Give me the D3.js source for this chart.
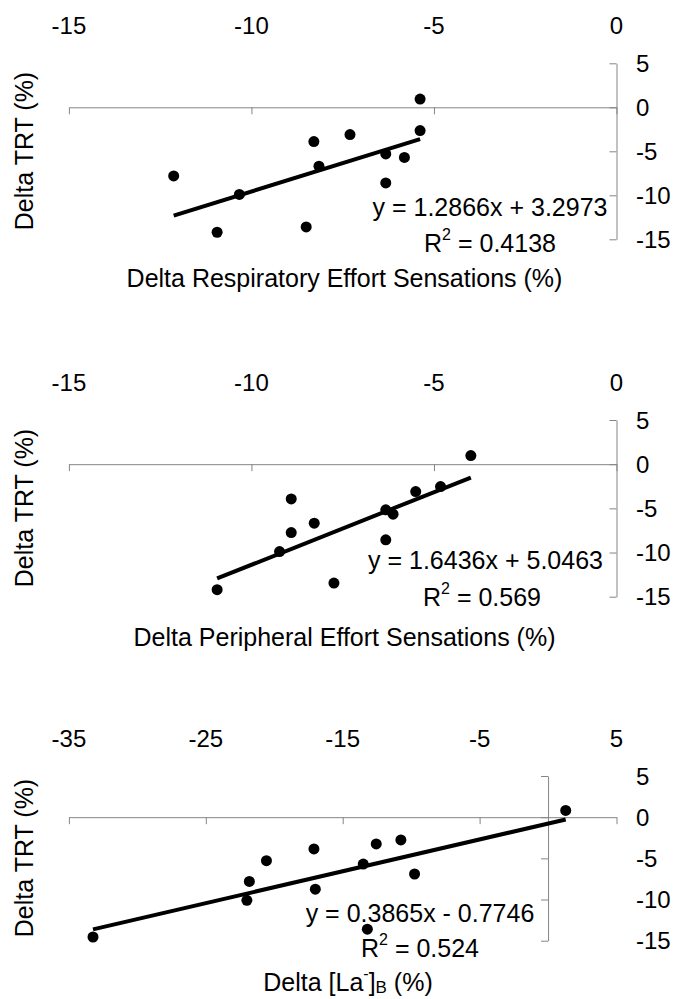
<!DOCTYPE html>
<html lang="en">
<head>
    <meta charset="utf-8">
    <title>Delta TRT vs effort sensations and lactate</title>
    <script src="https://d3js.org/d3.v7.min.js"></script>
    <style>
        body { margin: 0; background: #fff; }
        svg text { font-family: "Liberation Sans", Arial, sans-serif; fill: #000; }
    </style>
</head>
<body>
<div id="chart"></div>
<script>
    // --- data ---
    const yTicks = [5, 0, -5, -10, -15];

    const respTicks = [-15, -10, -5, 0];
    const respX = [-5.38, -5.38, -7.30, -8.29, -8.15, -6.32, -5.81, -6.32, -12.13, -10.33, -10.94, -8.50];
    const respY = [0.93, -2.65, -3.1, -3.9, -6.7, -5.3, -5.7, -8.6, -7.8, -9.9, -14.2, -13.6];

    const periphTicks = [-15, -10, -5, 0];
    const periphX = [-3.99, -4.82, -5.50, -6.32, -6.12, -6.32, -8.91, -8.91, -8.28, -9.23, -10.94, -7.74];
    const periphY = [0.97, -2.53, -3.1, -5.17, -5.66, -8.56, -3.93, -7.74, -6.68, -9.89, -14.2, -13.46];

    const lacTicks = [-35, -25, -15, -5, 5];
    const lacX = [1.29, -10.75, -12.55, -17.1, -20.57, -13.5, -9.75, -21.82, -17.0, -22.0, -13.2, -33.24];
    const lacY = [0.82, -2.76, -3.25, -3.86, -5.28, -5.69, -6.9, -7.8, -8.74, -10.1, -13.6, -14.55];

    const slopes = [1.2866, 1.6436, 0.3865];
    const intercepts = [3.2973, 5.0463, -0.7746];
    const equations = ["y = 1.2866x + 3.2973", "y = 1.6436x + 5.0463", "y = 0.3865x - 0.7746"];
    const r2Values = ["0.4138", "0.569", "0.524"];

    const width = 674, height = 999;
    const svg = d3.select("#chart").append("svg")
        .attr("width", width).attr("height", height);

    const panels = [
        {xs: respX, ys: respY, ticks: respTicks, top: 63.3, bottom: 239.3, eq: [490, 206.7], r2: [490, 243],
         title: [344.5, 278.3], ytitle: 151, label: "Delta Respiratory Effort Sensations (%)"},
        {xs: periphX, ys: periphY, ticks: periphTicks, top: 420, bottom: 596.7, eq: [485.5, 560], r2: [482, 596.7],
         title: [344.5, 636.7], ytitle: 508, label: "Delta Peripheral Effort Sensations (%)"},
        {xs: lacX, ys: lacY, ticks: lacTicks, top: 776, bottom: 940.7, eq: [420, 913.3], r2: [420, 948.3],
         title: [348, 981.7], ytitle: 858, label: null}
    ];

    const axisColor = "#858585";
    const fs = 24, fsTitle = 25;

    panels.forEach((p, k) => {
        const x = d3.scaleLinear()
            .domain(d3.extent(p.ticks))
            .range([68.9, 616.5]);
        const y = d3.scaleLinear()
            .domain([5, -15])
            .range([p.top, p.bottom]);
        const g = svg.append("g");

        // horizontal axis through y = 0, ticks pointing down
        const xAxis = g.append("g")
            .attr("transform", `translate(0,${y(0)})`)
            .call(d3.axisBottom(x).tickValues(p.ticks).tickSize(7).tickSizeOuter(0).tickFormat(""));
        xAxis.select(".domain").attr("stroke", axisColor);
        xAxis.selectAll(".tick line").attr("stroke", axisColor);

        // vertical axis through x = 0, ticks pointing left
        const yAxis = g.append("g")
            .attr("transform", `translate(${x(0)},0)`)
            .call(d3.axisLeft(y).tickValues(yTicks).tickSize(7).tickSizeOuter(0).tickFormat(""));
        yAxis.select(".domain").attr("stroke", axisColor);
        yAxis.selectAll(".tick line").attr("stroke", axisColor);

        // x tick labels along the top
        g.selectAll(".xlab").data(p.ticks).join("text")
            .attr("x", d => x(d))
            .attr("y", p.top - 38)
            .attr("text-anchor", "middle")
            .attr("dominant-baseline", "central")
            .attr("font-size", fs)
            .text(d => d);

        // y tick labels on the far right
        g.selectAll(".ylab").data(yTicks).join("text")
            .attr("x", 636)
            .attr("y", d => y(d))
            .attr("dominant-baseline", "central")
            .attr("font-size", fs)
            .text(d => d);

        // trend line between data extremes
        const xe = d3.extent(p.xs);
        g.append("line")
            .attr("x1", x(xe[0])).attr("y1", y(slopes[k] * xe[0] + intercepts[k]))
            .attr("x2", x(xe[1])).attr("y2", y(slopes[k] * xe[1] + intercepts[k]))
            .attr("stroke", "#000").attr("stroke-width", 4);

        g.selectAll("circle").data(p.xs).join("circle")
            .attr("cx", d => x(d))
            .attr("cy", (d, i) => y(p.ys[i]))
            .attr("r", 5.5)
            .attr("fill", "#000");

        g.append("text")
            .attr("x", p.eq[0]).attr("y", p.eq[1])
            .attr("text-anchor", "middle").attr("dominant-baseline", "central")
            .attr("font-size", fsTitle)
            .text(equations[k]);

        const r2 = g.append("text")
            .attr("x", p.r2[0]).attr("y", p.r2[1])
            .attr("text-anchor", "middle").attr("dominant-baseline", "central")
            .attr("font-size", fsTitle);
        r2.append("tspan").text("R");
        r2.append("tspan").attr("font-size", 16).attr("dy", -9).text("2");
        r2.append("tspan").attr("dy", 9).text(" = " + r2Values[k]);

        const t = g.append("text")
            .attr("x", p.title[0]).attr("y", p.title[1])
            .attr("text-anchor", "middle").attr("dominant-baseline", "central")
            .attr("font-size", fsTitle);
        if (p.label) {
            t.text(p.label);
        } else {
            t.append("tspan").text("Delta [La");
            t.append("tspan").attr("font-size", 16).attr("dy", -9).text("-");
            t.append("tspan").attr("dy", 9).text("]");
            t.append("tspan").attr("font-size", 17).attr("dy", 5).text("B");
            t.append("tspan").attr("dy", -5).text(" (%)");
        }

        g.append("text")
            .attr("transform", `translate(24,${p.ytitle}) rotate(-90)`)
            .attr("text-anchor", "middle").attr("dominant-baseline", "central")
            .attr("font-size", fsTitle)
            .text("Delta TRT (%)");
    });
</script>
</body>
</html>
